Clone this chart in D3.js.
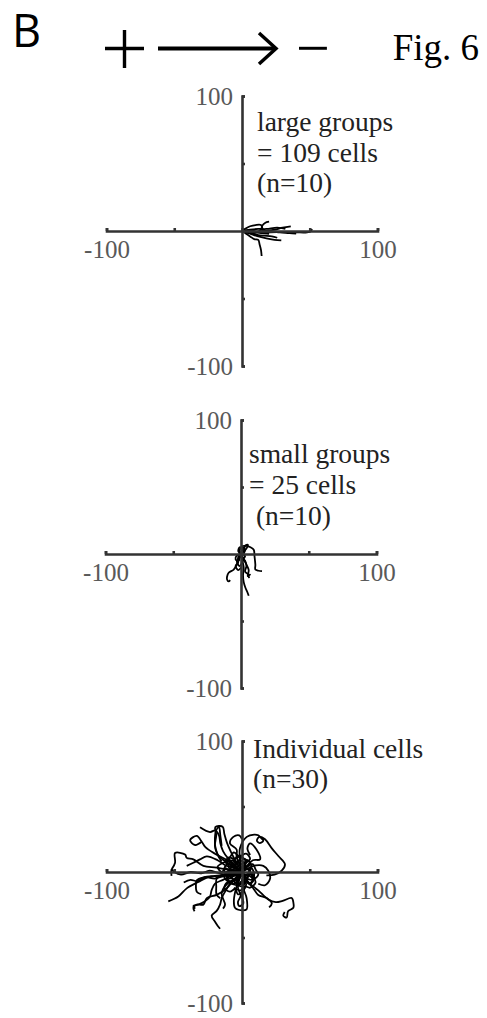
<!DOCTYPE html>
<html>
<head>
<meta charset="utf-8">
<script src="https://cdn.jsdelivr.net/npm/d3@7"></script>
<style>
  html, body { margin: 0; padding: 0; background: #ffffff; }
  svg { display: block; }
</style>
</head>
<body>
<script>
// ---------------- DATA (units, origin = start of every track) ----------------
const tickValues = [-100, -50, 0, 50, 100];
const tickLabels = [-100, 100];

const panelTitles = [
  ["large groups", "= 109 cells", "(n=10)"],
  ["small groups", "= 25 cells", " (n=10)"],
  ["Individual cells", "(n=30)"]
];

const largeGroups = [
  [[0,0],[10,-0.5],[20,-1],[30,-0.8],[40,-1],[48,-1],[51,0],[51.5,1.5]],
  [[0,0],[8,-1],[16,0],[24,1],[30,2.5],[36,3.5]],
  [[0,0],[3,2],[6,3.5],[10,4.4],[14,4.4],[15,2],[15,-1]],
  [[0,0],[5,-1],[10,-1],[14,1],[15,4],[17,6],[20,6.9]],
  [[0,0],[3,-2],[6,-4],[9,-6],[12,-6.6],[13,-10],[14,-14],[14.5,-18.5]],
  [[0,0],[6,-2],[12,-4],[18,-5.5],[24,-6.5],[29,-7]],
  [[0,0],[8,-1],[14,-1.5],[20,-2.2]],
  [[0,0],[5,0.5],[12,-0.5],[20,0],[28,-1],[35,-1.5],[40,-2]],
  [[0,0],[4,-1],[8,-2],[12,-3],[16,-3.5],[22,-4],[26,-5]],
  [[0,0],[6,1],[12,1.5],[18,1.5],[26,2.5],[32,1.5]]
];

const smallGroups = [
  [[0,0],[-1,-3],[-3,-7.9],[-5.4,-11.6],[-9.1,-14],[-10.3,-17],[-10.3,-19],[-9.1,-20.5],[-8,-19.5]],
  [[0,0],[1,3],[0.7,5.7],[4,6],[7,5],[9.4,3.2],[10,-2],[10.6,-8],[10.6,-11.6],[13,-12.5],[15.5,-12.8]],
  [[0,0],[1,-5],[2,-10],[1.5,-16],[2,-21],[3.2,-25],[4.5,-28],[5.7,-31.2]],
  [[0,0],[2,-4],[4,-8],[5.7,-12],[5,-16.5],[7,-15]],
  [[0,0],[-2,2],[-1,5],[1,4],[0,1],[-2,-2],[-1,-5]],
  [[0,0],[-2,-3],[-3,-6],[-1,-9],[1,-6],[2,-3],[-1,-2]],
  [[0,0],[-3,-1],[-4,-4],[-2,-6],[-4,-9],[-2,-12],[0,-10]],
  [[0,0],[2,2],[4,4],[5,7],[3,6],[2,3],[0,4]],
  [[0,0],[1,-3],[3,-5],[4,-9],[3,-13],[5,-15],[6,-18]],
  [[0,0],[-1,3],[1,5],[3,3],[2,0],[3,-2],[1,-4]]
];

const individualCells = [
  [[0,0],[-6.4,-0.7],[-16.2,-2.7],[-24.9,-3.9],[-32.2,-7.6],[-40.8,-12.5],[-47,-18.7],[-54.4,-22.4]],
  [[0,0],[-6.4,1],[-18.7,3.4],[-28.5,4.7],[-35.9,9.6],[-40.8,10.8],[-42,13.3],[-49.4,14.5],[-49.4,7.1],[-51.8,2.2]],
  [[0,0],[-11,9],[-20,14],[-27,19],[-29.7,23.1],[-33.4,27.5],[-38.3,24.3],[-34.6,20.6],[-29.7,23.1]],
  [[0,0],[-5,5],[-10,10],[-14,16],[-16,22],[-17,28],[-19.9,31.7],[-23.6,30.5],[-31,34.2]],
  [[0,0],[-4,7],[-8,15],[-11,22],[-13,29],[-14.3,34.6],[-19.7,34.2],[-19,28],[-20,20],[-18,13],[-15,8]],
  [[0,0],[-1.5,10],[-1.5,18.2],[3.5,26.8],[9,28.5],[12,28],[14,26],[15.7,24],[13,22],[11,24],[13,27],[17,25],[21.9,18.2],[27,12],[31.7,5.9],[29.3,1],[24,-2],[18,-2.5]],
  [[0,0],[5,-8],[12,-14],[19.4,-21],[25,-23],[30,-22],[36.7,-19.9],[38,-24],[37.9,-27.3],[34,-30],[33,-34.7],[30.5,-33.4],[31.5,-30.5]],
  [[0,0],[3,-6],[8,-12],[12,-17.5],[18.2,-19.9],[22,-24],[20,-27]],
  [[0,0],[-5,-5],[-9,-9],[-12.5,-15],[-15,-19.9],[-16.2,-24.9],[-18.7,-29.7],[-22.4,-33.4],[-19.9,-38],[-18,-41],[-16.2,-43.3]],
  [[0,0],[-8,-3],[-14,-6],[-19.9,-8.9],[-22.4,-13.8],[-23.6,-18.7],[-27.3,-22.4],[-32.2,-24.9],[-35.9,-26],[-34.5,-28]],
  [[0,0],[-10,-2],[-20,-3],[-28,-4],[-33.4,-6.4],[-34,-10],[-33.4,-15],[-30,-17]],
  [[0,0],[-5,-5],[-10,-8],[-15,-16.2],[-12.5,-24.9],[-14,-28]],
  [[0,0],[-3,-8],[-5,-15],[-6,-22],[-5.2,-27.3],[-0.2,-29.3],[3.4,-28.5],[3.4,-19.9],[1,-12],[2,-6]],
  [[0,0],[-2,-6],[-3,-12],[-1,-18],[-3,-23],[-2,-26],[1,-24],[0,-18],[2,-12]],
  [[0,0],[-6,4],[-12,8],[-17,12],[-19.5,18],[-20,26],[-19,32],[-17,34],[-16,28],[-15,20]],
  [[0,0],[-8,1],[-16,-1],[-24,1],[-30,-1],[-38,0],[-45,-2],[-50,0],[-52,2],[-52,-3]],
  [[0,0],[-6,-3],[-14,-2],[-20,-5],[-27,-4],[-33,-7],[-38,-6],[-43,-8]],
  [[0,0],[-6,3],[-12,5],[-18,9],[-26,12],[-31,9.6],[-35.9,7.1],[-40.8,4.7]],
  [[0,0],[5,3],[10,5],[15.7,4.7],[19.4,1],[20.7,-5.2],[17,-10.1],[12,-9]],
  [[0,0],[4,5],[8,9],[13.3,9.6],[10.8,17],[5.9,21.9],[4,18],[6,13]],
  [[0,0],[-2,6],[-4,12],[-3.9,17],[-8.9,21.9],[-6.4,26.8],[-2,28],[0,25]],
  [[0,0],[-6,-6],[-11.3,-12.5],[-18.7,-17.5],[-26,-19.9],[-28.5,-24.9],[-33.4,-24.9],[-35.9,-27.3],[-35,-30]],
  [[0,0],[-6,-2],[-12,-3],[-18.7,-5.2],[-19,-11],[-18.7,-17.5],[-16,-20]],
  [[0,0],[-4,3],[-8,1],[-10,5],[-7,9],[-3,7],[-1,11],[3,8],[2,3],[6,1],[4,-4],[-1,-3],[-5,-6],[-9,-3],[-7,2],[-11,0],[-13,-4],[-9,-8],[-4,-10],[0,-7]],
  [[0,0],[3,-3],[7,-1],[9,-5],[6,-9],[2,-7],[-2,-10],[-5,-6],[-8,-8],[-11,-4],[-8,0],[-4,-2],[-1,2],[3,4],[6,7],[2,10],[-3,12],[-6,8],[-2,5]],
  [[0,0],[-5,-2],[-9,-5],[-12,-2],[-13,3],[-10,6],[-6,4],[-4,8],[0,6],[4,9],[7,5],[5,0],[8,-3],[10,-8],[6,-12],[2,-11],[-1,-14],[-6,-12]],
  [[0,0],[4,4],[8,6],[10,2],[12,-2],[9,-5],[5,-3],[3,-7],[0,-11],[-4,-9],[-3,-4],[-7,-1],[-4,2],[-8,5],[-12,7],[-10,11],[-5,10],[-1,13]],
  [[0,0],[-2,-5],[-6,-9],[-11,-8],[-13,-12],[-9,-15],[-5,-13],[-3,-17],[1,-14],[3,-9],[0,-6],[2,-2],[-2,1],[-6,-2],[-9,1],[-7,4],[-3,4]],
  [[0,0],[2,6],[6,10],[3,14],[-2,12],[-6,15],[-9,11],[-11,7],[-7,5],[-3,2],[1,-2],[5,-1],[7,3],[9,-2],[7,-6],[3,-5],[-1,-8]],
  [[0,0],[-7,-1],[-12,3],[-15,0],[-18,4],[-14,7],[-9,9],[-5,5],[-2,9],[2,6],[0,2],[-3,-3],[-6,-7],[-2,-9],[2,-5],[5,-9],[8,-6],[6,-1]]
];

const panelData = [largeGroups, smallGroups, individualCells];

// ---------------- LAYOUT ----------------
const W = 487, H = 1018;
const layout = [
  { cx: 242, cy: 231, hx: 135.5, hy: 135, tx: 257, ty: [131, 162, 192] },
  { cx: 241, cy: 554, hx: 135.5, hy: 134, tx: 249, ty: [463, 494, 525] },
  { cx: 242, cy: 872, hx: 135.5, hy: 131, tx: 253, ty: [758, 788] }
];
const axisColor = "#333333";
const labelColor = "#595959";
const serif = "'Liberation Serif', 'Times New Roman', serif";

const svg = d3.select("body").append("svg")
  .attr("width", W).attr("height", H)
  .attr("viewBox", `0 0 ${W} ${H}`);

// ---------------- HEADER ----------------
svg.append("text").attr("x", 12).attr("y", 47)
  .style("font-family", "'Open Sans', 'Liberation Sans', sans-serif")
  .style("font-size", "45px").attr("fill", "#000").text("B");

const sym = svg.append("g").attr("stroke", "#000").attr("fill", "none")
  .attr("stroke-linecap", "butt");
// plus sign
sym.append("line").attr("x1", 105).attr("x2", 144).attr("y1", 48.5).attr("y2", 48.5).attr("stroke-width", 3.4);
sym.append("line").attr("x1", 124.5).attr("x2", 124.5).attr("y1", 30).attr("y2", 68).attr("stroke-width", 3.4);
// arrow
sym.append("line").attr("x1", 158).attr("x2", 275).attr("y1", 48.5).attr("y2", 48.5)
  .attr("stroke-width", 4);
sym.append("path").attr("d", "M259,33 L276,48.5 L259,64").attr("stroke-width", 3.5);

svg.append("text").attr("x", 313).attr("y", 68).attr("text-anchor", "middle")
  .style("font-family", serif).style("font-size", "60px").attr("fill", "#000").text("\u2212");

svg.append("text").attr("x", 479).attr("y", 60).attr("text-anchor", "end")
  .style("font-family", serif).style("font-size", "37px").attr("fill", "#000").text("Fig. 6");

// ---------------- PANELS ----------------
const fmt = d => String(d);
panelData.forEach((tracks, i) => {
  const L = layout[i];
  const x = d3.scaleLinear().domain([-100, 100]).range([L.cx - L.hx, L.cx + L.hx]);
  const y = d3.scaleLinear().domain([-100, 100]).range([L.cy + L.hy, L.cy - L.hy]);
  const g = svg.append("g");

  // trajectories
  const line = d3.line().x(d => x(d[0])).y(d => y(d[1])).curve(d3.curveCatmullRom.alpha(0.5));
  g.append("g").selectAll("path").data(tracks).join("path")
    .attr("d", line).attr("fill", "none").attr("stroke", "#000")
    .attr("stroke-width", 1.8).attr("stroke-linejoin", "round");

  // x axis (ticks pointing up)
  const gx = g.append("g").attr("transform", `translate(0,${y(0)})`)
    .call(d3.axisTop(x).tickValues(tickValues).tickSize(3).tickSizeOuter(3).tickFormat(""));
  gx.selectAll("path, line").attr("stroke", axisColor).attr("stroke-width", 2.6);

  // y axis (ticks pointing right)
  const gy = g.append("g").attr("transform", `translate(${x(0)},0)`)
    .call(d3.axisRight(y).tickValues(tickValues).tickSize(3).tickSizeOuter(3).tickFormat(""));
  gy.selectAll("path, line").attr("stroke", axisColor).attr("stroke-width", 2.6);

  // tick labels
  const xl = g.append("g").attr("transform", `translate(0,${y(0)})`)
    .call(d3.axisBottom(x).tickValues(tickLabels).tickSize(0).tickPadding(9).tickFormat(fmt));
  xl.select(".domain").remove();
  const yl = g.append("g").attr("transform", `translate(${x(0)},0)`)
    .call(d3.axisLeft(y).tickValues(tickLabels).tickSize(0).tickPadding(9).tickFormat(fmt));
  yl.select(".domain").remove();
  g.selectAll(".tick text")
    .style("font-family", serif).style("font-size", "25px").attr("fill", labelColor);

  // panel title
  panelTitles[i].forEach((t, k) => {
    g.append("text").attr("x", L.tx).attr("y", L.ty[k])
      .attr("xml:space", "preserve")
      .style("font-family", serif).style("font-size", "27.5px").attr("fill", "#222")
      .text(t);
  });
});
</script>
</body>
</html>
